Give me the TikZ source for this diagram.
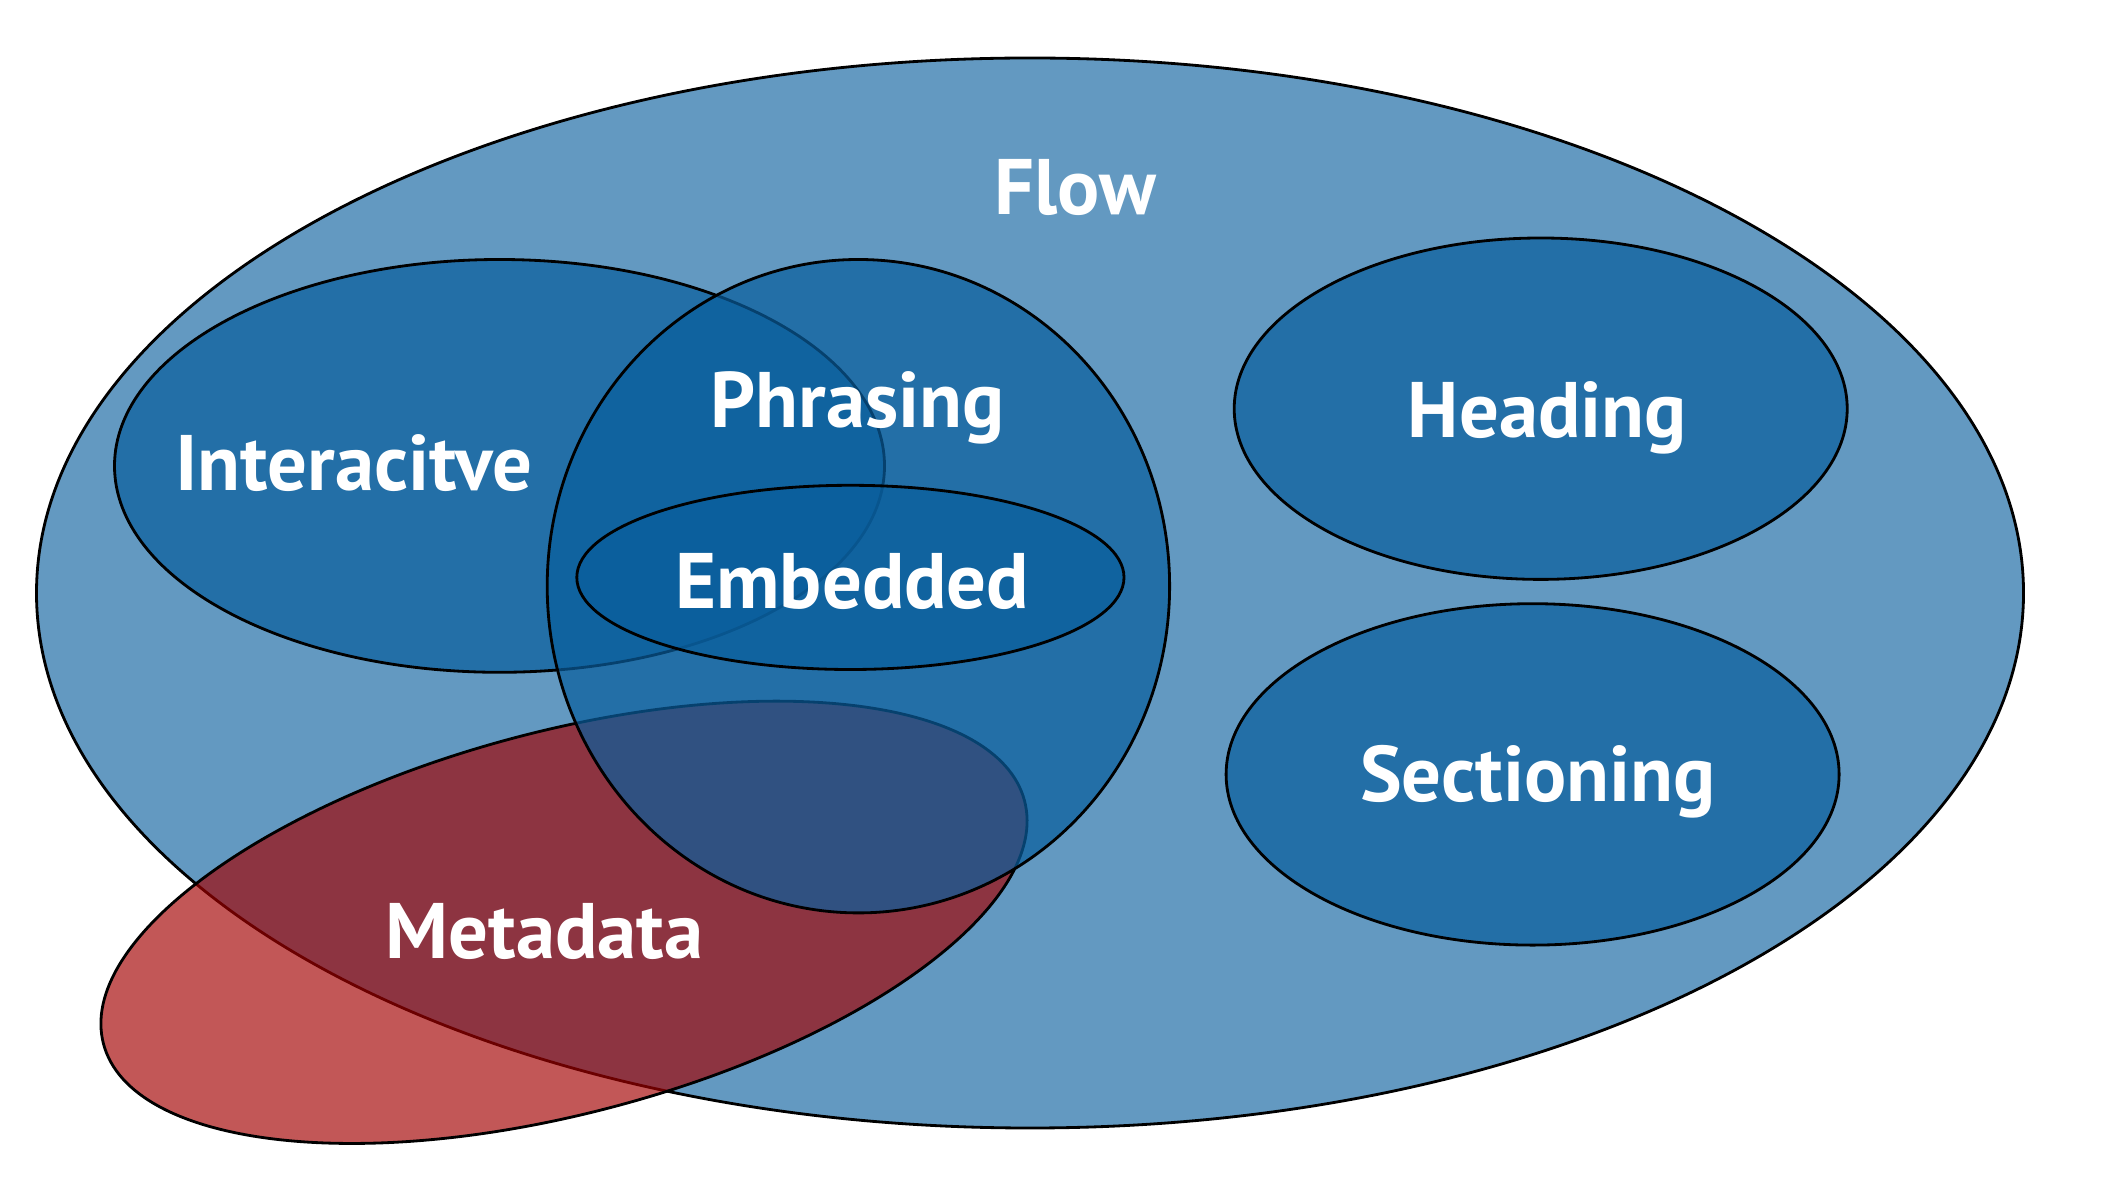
\documentclass[tikz,border=0pt]{standalone}
\usepackage{fontspec}
\setmainfont{PT Sans}
\usepackage{tikz}
\usepackage{xcolor}
\definecolor{flowblue}{RGB}{99,153,193}
\definecolor{catblue}{RGB}{9,94,157}
\definecolor{metared}{RGB}{163,0,0}

\begin{document}
\begin{tikzpicture}[
    cat/.style={draw=black,line width=0.8pt,fill=catblue,fill opacity=0.7},
    lbl/.style={text=white,anchor=base,font=\fontsize{22.4}{26}\selectfont\bfseries}]
    \useasboundingbox (0,0) rectangle (21.08,11.92);
    % outer category
    \draw[line width=0.8pt,fill=flowblue] (10.30,5.99) ellipse [x radius=9.935,y radius=5.35];
    % metadata sits under the blue sets
    \draw[line width=0.8pt,fill=metared,fill opacity=0.66,rotate around={14.8:(5.64,2.697)}]
      (5.64,2.697) ellipse [x radius=4.763,y radius=1.91];
    \draw[cat] (4.995,7.261) ellipse [x radius=3.85,y radius=2.064];
    \draw[cat] (8.584,6.058) ellipse [x radius=3.112,y radius=3.267];
    \draw[cat] (8.504,6.146) ellipse [x radius=2.736,y radius=0.921];
    \draw[cat] (15.407,7.833) ellipse [x radius=3.065,y radius=1.707];
    \draw[cat] (15.326,4.176) ellipse [x radius=3.065,y radius=1.707];
    % labels
    \node[lbl] (flow) at (10.75,9.77) {Flow};
    \node[lbl] (interactive) at (3.536,7.01) {Interacitve};
    \node[lbl] (phrasing) at (8.577,7.645) {Phrasing};
    \node[lbl] (embedded) at (8.524,5.83) {Embedded};
    \node[lbl] (heading) at (15.474,7.54) {Heading};
    \node[lbl] (sectioning) at (15.38,3.91) {Sectioning};
    \node[lbl] (metadata) at (5.445,2.335) {Metadata};
\end{tikzpicture}
\end{document}
